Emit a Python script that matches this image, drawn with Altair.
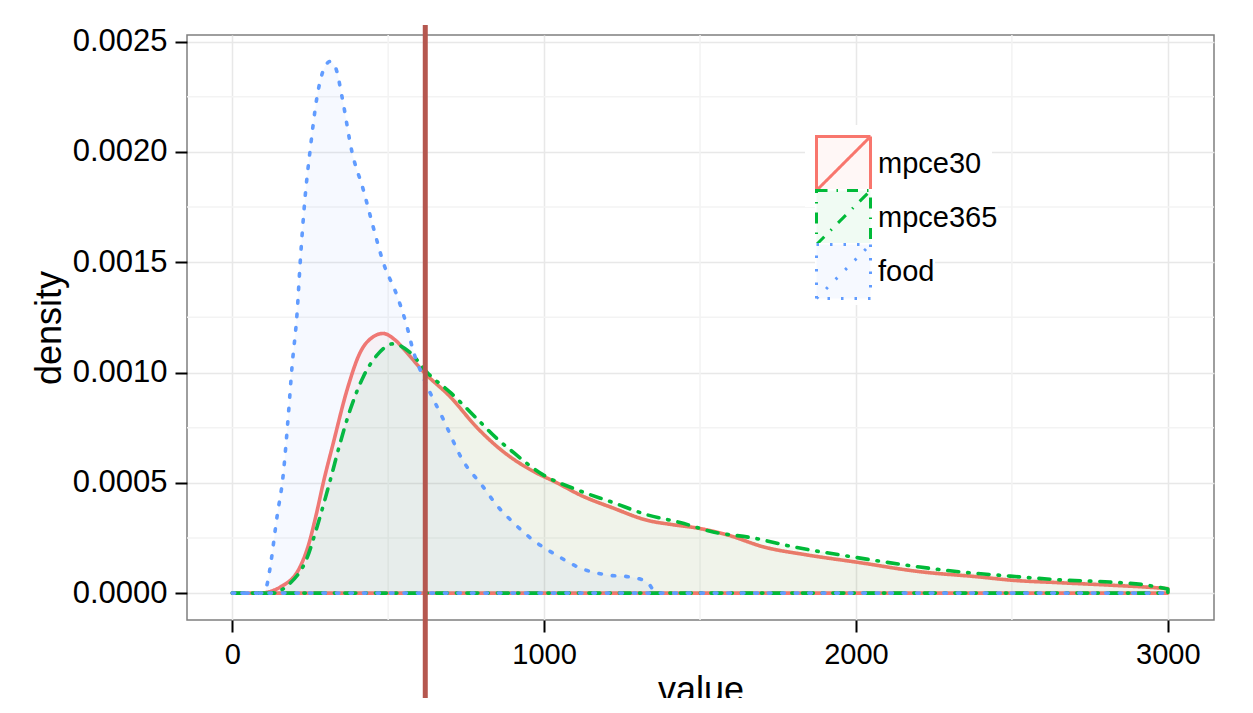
import altair as alt
import pandas as pd

# ---- data ----
series_names = ["mpce30", "mpce365", "food"]
line_colors = ["#F8766D", "#00BA38", "#619CFF"]
fill_colors = ["rgba(248,118,109,0.06)", "rgba(0,186,56,0.06)", "rgba(97,156,255,0.06)"]
dash_patterns = [[1, 0], [11, 9, 1.5, 9], [2.5, 11]]
label_pad = [3, 2, 10]  # trailing blanks so the white legend boxes line up on the right

mpce30_x = [0, 90, 154, 218, 245, 270, 292, 324, 368, 410, 450, 484, 520, 560, 612, 699, 785, 870,
            955, 1041, 1115, 1222, 1330, 1413, 1490, 1587, 1702, 1843, 2003, 2205, 2397, 2494,
            2654, 2814, 2974, 3000]
mpce30_y = [0, 0, 0.000027, 0.00012, 0.00022, 0.00036, 0.0005, 0.00068, 0.00092, 0.00109, 0.00116,
            0.001177, 0.00115, 0.00109, 0.001005, 0.00089, 0.00075, 0.00064, 0.00056, 0.0005,
            0.000445, 0.000385, 0.00033, 0.00031, 0.000295, 0.000264, 0.00021, 0.000173,
            0.00014, 0.000097, 0.000073, 0.000059, 0.000047, 0.000036, 0.000023, 0.00002]

mpce365_x = [0, 122, 186, 240, 272, 314, 346, 378, 420, 465, 516, 571, 625, 699, 785, 849, 891,
             997, 1106, 1222, 1330, 1436, 1542, 1670, 1798, 1990, 2205, 2343, 2494, 2654, 2814,
             2933, 3000]
mpce365_y = [0, 0, 0.000045, 0.00016, 0.0003, 0.00051, 0.00068, 0.00083, 0.00098, 0.00108,
             0.00113, 0.00109, 0.001, 0.00091, 0.00079, 0.0007, 0.00065, 0.000536, 0.000468,
             0.00041, 0.000355, 0.00032, 0.000277, 0.00025, 0.00021, 0.000164, 0.000118,
             0.000095, 0.000077, 0.00006, 0.00005, 0.000036, 0.000018]

food_x = [0, 100, 112, 122, 144, 163, 179, 192, 208, 218, 234, 250, 272, 295, 314, 332, 352,
          384, 420, 452, 484, 528, 560, 580, 612, 676, 740, 800, 853, 901, 965, 1042, 1115,
          1202, 1276, 1330, 1362, 3000]
food_y = [0, 0, 0.00004, 0.00012, 0.00035, 0.00053, 0.00079, 0.00103, 0.00127, 0.0015, 0.0018,
          0.00201, 0.00225, 0.00238, 0.00241, 0.00238, 0.00225, 0.002, 0.00183, 0.00166, 0.0015,
          0.00135, 0.00121, 0.0011, 0.00098, 0.00079, 0.0006, 0.00049, 0.00039, 0.00032,
          0.00024, 0.00017, 0.000114, 0.000082, 0.000073, 0.00005, 0, 0]

cutoff_value = [619]

x_ticks = [0, 1000, 2000, 3000]
y_ticks = [0, 0.0005, 0.001, 0.0015, 0.002, 0.0025]
x_minor = [500, 1500, 2500]
y_minor = [0.00025, 0.00075, 0.00125, 0.00175, 0.00225]

# ---- build tables ----
frames = []
for name, xs, ys in [("mpce30", mpce30_x, mpce30_y),
                     ("mpce365", mpce365_x, mpce365_y),
                     ("food", food_x, food_y)]:
    frames.append(pd.DataFrame({"series": name, "value": xs, "density": ys}))
df = pd.concat(frames, ignore_index=True)

FONT = "Liberation Sans"
xs_ = alt.Scale(domain=[-145, 3148], nice=False, zero=False)
ys_ = alt.Scale(domain=[-0.000122, 0.00253], nice=False, zero=False)
x_axis = alt.Axis(values=x_ticks, format="d", title="value", grid=True)
y_axis = alt.Axis(values=y_ticks, format=".4f", title="density", grid=True)

X = alt.X("value:Q", scale=xs_, axis=x_axis)
Y = alt.Y("density:Q", scale=ys_, axis=y_axis)

minor_x = alt.Chart(pd.DataFrame({"value": x_minor})).mark_rule(
    color="#f3f3f3", strokeWidth=1.5).encode(x=X)
minor_y = alt.Chart(pd.DataFrame({"density": y_minor})).mark_rule(
    color="#f3f3f3", strokeWidth=1.5).encode(y=Y)

ROW = 54
SYMBOL = "M-1,-1H1V1H-1ZM-1,1L1,-1"


def area_layer(i):
    name = series_names[i]
    pad = 10 if i == 0 else 0
    leg = alt.Legend(
        title=None, orient="none", legendX=628 - pad, legendY=100 + ROW * i - pad,
        symbolType=SYMBOL, symbolSize=ROW * ROW, symbolStrokeWidth=3,
        symbolDash=dash_patterns[i],
        labelFont=FONT, labelFontSize=29, labelColor="black", labelOffset=6,
        labelExpr="datum.label + '" + "\u00a0" * label_pad[i] + "'",
        padding=pad, fillColor="white",
    )
    return alt.Chart(df).transform_filter(alt.datum.series == name).mark_area(
        strokeWidth=3.6, interpolate="monotone", strokeCap="round", strokeJoin="round",
        strokeDash=dash_patterns[i],
    ).encode(
        x=X, y=Y,
        fill=alt.Fill("series:N", scale=alt.Scale(domain=[name], range=[fill_colors[i]]), legend=leg),
        stroke=alt.Stroke("series:N", scale=alt.Scale(domain=[name], range=[line_colors[i]]), legend=leg),
    )


cutoff = alt.Chart(pd.DataFrame({"value": cutoff_value})).mark_rule(
    color="#b5574f", strokeWidth=5, clip=False
).encode(x=X, y=alt.value(-10), y2=alt.value(700))

chart = alt.layer(
    minor_x, minor_y,
    area_layer(0), area_layer(1), area_layer(2),
    cutoff,
).resolve_scale(
    fill="independent", stroke="independent"
).resolve_legend(
    fill="independent", stroke="independent"
).properties(
    width=1027, height=585,
    padding={"left": 179, "top": 27, "right": 31, "bottom": 78},
    autosize=alt.AutoSizeParams(type="none"),
    background="white",
).configure_view(
    stroke="#7f7f7f", strokeWidth=1.5
).configure_axis(
    labelFont=FONT, labelFontSize=29, labelColor="black", labelPadding=8,
    titleFont=FONT, titleFontSize=36, titleFontWeight="normal", titleColor="black",
    tickColor="black", tickWidth=2, tickSize=12,
    gridColor="#e8e8e8", gridWidth=1.5, domain=False,
).configure_axisY(
    titlePadding=4, labelFontSize=31
).configure_axisX(
    titlePadding=4
)

chart.save("out.html", embed_options={"renderer": "svg", "actions": False})
